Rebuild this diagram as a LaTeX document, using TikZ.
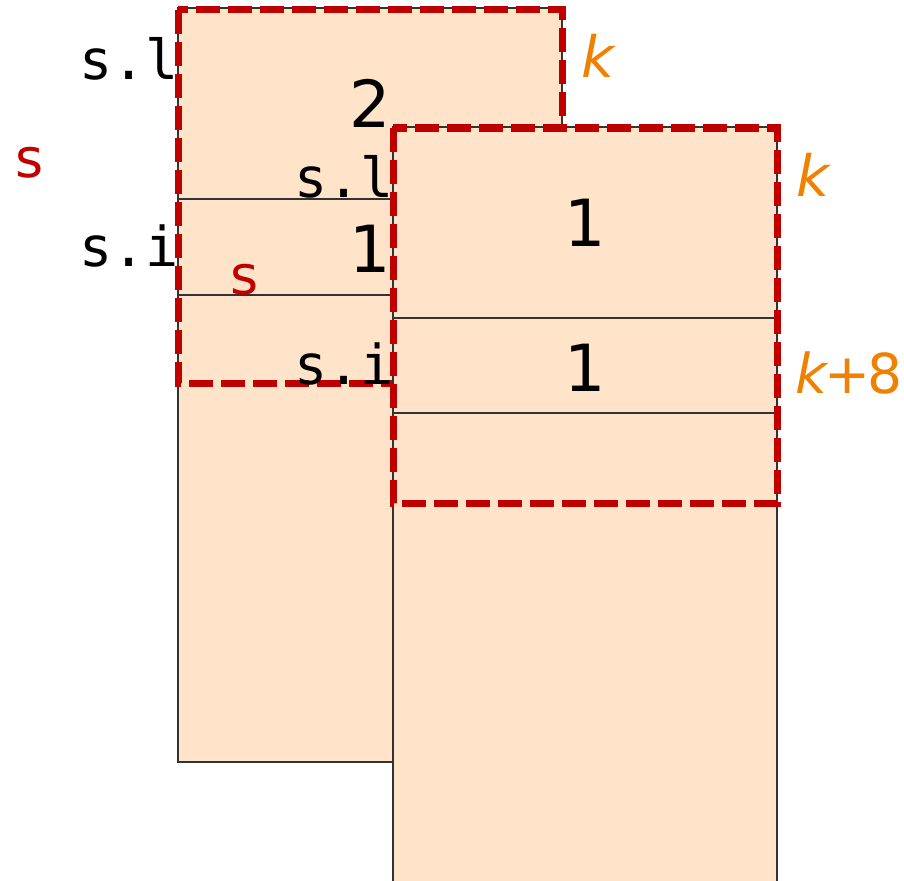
\documentclass[tikz,border=0pt]{standalone}
\usepackage{fontspec}
\setmainfont{DejaVu Sans}
\setmonofont{DejaVu Sans Mono}
\definecolor{peach}{HTML}{FFE4C9}
\definecolor{dred}{HTML}{C00000}
\definecolor{korange}{HTML}{F08000}
\definecolor{edge}{HTML}{333333}
\tikzset{
  memcol/.style={fill=peach, draw=edge, line width=1.6pt},
  divider/.style={draw=edge, line width=1.6pt},
  framebox/.style={draw=dred, line width=7pt, dash pattern=on 24pt off 8pt},
  codelbl/.style={inner sep=0pt, font=\ttfamily\fontsize{55}{60}\selectfont, text=black},
  numlbl/.style={inner sep=0pt, font=\fontsize{65}{70}\selectfont, text=black},
  slbl/.style={inner sep=0pt, font=\fontsize{54}{60}\selectfont, text=dred},
  klbl/.style={inner sep=0pt, font=\fontsize{57}{64}\selectfont, text=korange}
}
\begin{document}
\begin{tikzpicture}[x=1pt,y=-1pt]
\useasboundingbox (0,0) rectangle (904,880);
% labels left of first column (hidden behind it)
\node[codelbl, anchor=base east] (sl1) at (179,80) {s.l};
\node[codelbl, anchor=base east] (si1) at (179,266) {s.i};
\node[slbl, anchor=base] (s1) at (30,177) {s};
% first column
\draw[memcol] (178,8) rectangle (562,762);
\coordinate (a1) at (178,199); \coordinate (a2) at (562,199);
\coordinate (b1) at (178,295); \coordinate (b2) at (562,295);
\draw[divider] (a1) -- (a2);
\draw[divider] (b1) -- (b2);
\node[numlbl] (n2) at (370,103) {2};
\node[numlbl] (n1a) at (370,249) {1};
\node[slbl, anchor=base] (s2) at (245,294) {s};
\draw[framebox] (178,10) rectangle (562,383);
\node[klbl, anchor=base west] (k1) at (581,78) {\itshape k};
% labels left of second column (hidden behind it)
\node[codelbl, anchor=base east] (sl2) at (394,197) {s.l};
\node[codelbl, anchor=base east] (si2) at (394,384) {s.i};
% second column
\draw[memcol] (393,127) rectangle (777,900);
\coordinate (c1) at (393,318); \coordinate (c2) at (777,318);
\coordinate (d1) at (393,413); \coordinate (d2) at (777,413);
\draw[divider] (c1) -- (c2);
\draw[divider] (d1) -- (d2);
\draw[framebox] (393,128) rectangle (777,503);
\node[numlbl] (n1b) at (585,223) {1};
\node[numlbl] (n1c) at (585,368) {1};
\node[klbl, anchor=base west] (k2) at (796,196) {\itshape k};
\node[klbl, anchor=base west, font=\fontsize{55}{64}\selectfont] (k3) at (795,393) {{\itshape k}\kern-3pt+\kern-3pt8};
\end{tikzpicture}
\end{document}
